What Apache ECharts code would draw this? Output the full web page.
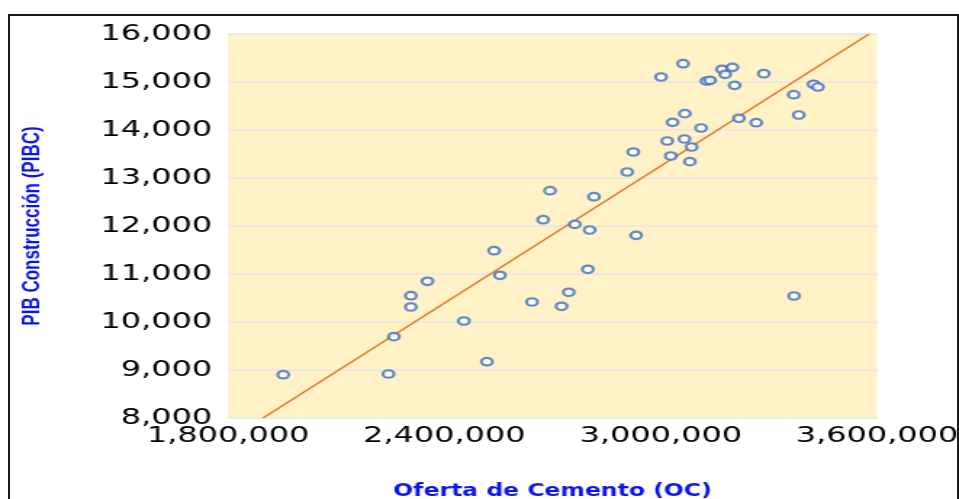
<!DOCTYPE html>
<html>
<head>
<meta charset="utf-8">
<script src="https://cdn.jsdelivr.net/npm/echarts@6/dist/echarts.min.js"></script>
<style>
html,body{margin:0;padding:0;width:959px;height:499px;overflow:hidden;background:#fff;}
#frame{position:absolute;left:8px;top:14px;width:947px;height:485px;border:2px solid #1a1a1a;border-bottom:none;box-sizing:content-box;}
#wrap{position:absolute;left:0;top:0;width:959px;height:499px;overflow:hidden;}
#chart{position:absolute;left:0;top:0;width:661px;height:499px;transform-origin:0 0;transform:scaleX(1.4508);}
</style>
</head>
<body>
<div id="frame"></div>
<div id="wrap"><div id="chart"></div></div>
<script>
// Oferta de Cemento (OC)
const ofertaCemento = [
  1953000, 2245000, 2260000, 2307000, 2307000, 2353000, 2454000, 2518000, 2538000, 2554000,
  2643000, 2725000, 2924000, 3028000, 3081000, 2907000, 2693000, 2815000, 2674000, 2762000,
  2803000, 2932000, 2798000, 2745000, 3062000, 3001000, 3170000, 3199000, 3179000, 3286000,
  3127000, 3137000, 3205000, 3424000, 3436000, 3369000, 3383000, 3067000, 3033000, 3217000,
  3265000, 3112000, 3018000, 3066000, 3086000, 3370000
];
// PIB Construcción (PIBC)
const pibConstruccion = [
  8902, 8917, 9694, 10313, 10548, 10848, 10021, 9173, 11485, 10973,
  10417, 10327, 13542, 13458, 13340, 13125, 12735, 12610, 12131, 12035,
  11917, 11806, 11098, 10619, 15381, 15104, 15265, 15306, 15160, 15173,
  15021, 15035, 14931, 14952, 14896, 14735, 14313, 14340, 14160, 14244,
  14152, 14042, 13771, 13813, 13646, 10542
];
// Linear trend line end points
const trendX = [1897000, 3578000];
const trendY = [8000, 16000];
// Axis ticks
const xTicks = { min: 1800000, max: 3600000, interval: 600000 };
const yTicks = { min: 8000, max: 16000, interval: 1000 };

const fmt = v => Math.round(v).toString().replace(/\B(?=(\d{3})+(?!\d))/g, ',');

const points = ofertaCemento.map((x, i) => [x, pibConstruccion[i]]);
const trend = trendX.map((x, i) => [x, trendY[i]]);

const chart = echarts.init(document.getElementById('chart'), null, { renderer: 'canvas', width: 661, height: 499 });
chart.setOption({
  animation: false,
  backgroundColor: 'transparent',
  grid: {
    left: 157.2, right: 56.5, top: 34, bottom: 81,
    containLabel: false,
    outerBoundsMode: 'none',
    show: true, backgroundColor: '#FEF2C6', borderWidth: 0
  },
  xAxis: {
    type: 'value',
    min: xTicks.min, max: xTicks.max, interval: xTicks.interval,
    name: 'Oferta de Cemento (OC)',
    nameLocation: 'middle',
    nameGap: 64,
    nameTextStyle: {
      color: '#0a14f0', fontWeight: 'bold', fontSize: 18,
      fontFamily: '"DejaVu Sans Condensed", "DejaVu Sans", sans-serif'
    },
    axisLine: { show: false },
    axisTick: { show: false },
    splitLine: { show: false },
    axisLabel: {
      formatter: fmt, color: '#000', fontSize: 22, margin: 7,
      fontFamily: '"DejaVu Sans", sans-serif'
    }
  },
  yAxis: {
    type: 'value',
    min: yTicks.min, max: yTicks.max, interval: yTicks.interval,
    name: 'PIB Construcción (PIBC)',
    nameLocation: 'middle',
    nameRotate: 90,
    nameGap: 126,
    nameTextStyle: {
      color: '#0a14f0', fontWeight: 'bold', fontSize: 17,
      fontFamily: '"Liberation Sans Narrow", "Arial Narrow", sans-serif'
    },
    axisLine: { show: false },
    axisTick: { show: false },
    splitLine: { show: true, lineStyle: { color: '#e8e6e0', width: 1.5 } },
    axisLabel: {
      formatter: fmt, color: '#000', fontSize: 22, margin: 11,
      fontFamily: '"DejaVu Sans", sans-serif'
    }
  },
  series: [
    {
      type: 'line',
      data: trend,
      symbol: 'none',
      lineStyle: { color: '#E07B2E', width: 1.6 },
      z: 2
    },
    {
      type: 'scatter',
      data: points,
      symbol: 'circle',
      symbolSize: 7.5,
      itemStyle: { color: '#ffffff', borderColor: '#3F6DBF', borderWidth: 2.2 },
      z: 3
    }
  ]
});
</script>
</body>
</html>
